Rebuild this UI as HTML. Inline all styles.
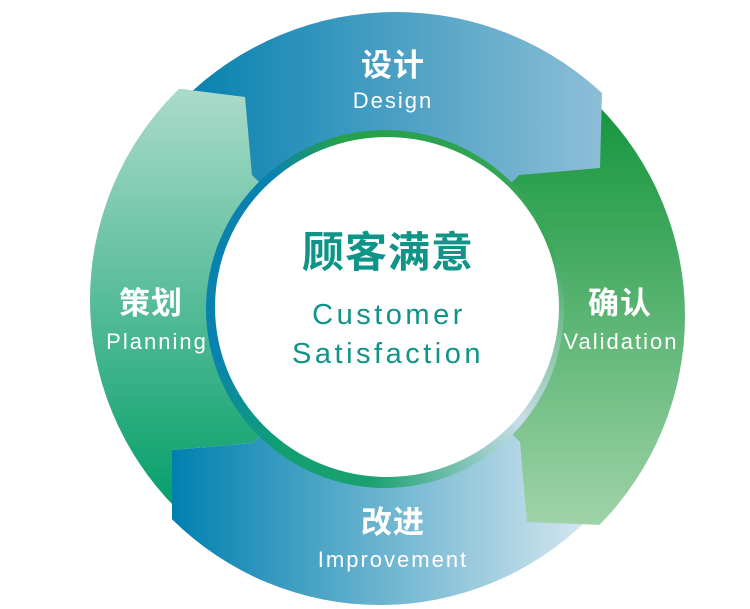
<!DOCTYPE html>
<html><head><meta charset="utf-8"><style>
html,body{margin:0;padding:0;background:#fff;}
#w{position:relative;width:750px;height:609px;overflow:hidden;font-family:"Liberation Sans","Noto Sans CJK SC",sans-serif;}
svg{position:absolute;left:0;top:0;}
.band{position:absolute;left:206px;top:130px;width:358px;height:358px;border-radius:50%;
background:conic-gradient(from 0deg,#27a04c 0deg,#3aa858 70deg,#c8dde8 130deg,#1aa070 185deg,#12a070 215deg,#0a82b0 255deg,#0a82b0 320deg,#27a04c 345deg);}
.white{position:absolute;left:215px;top:137px;width:344px;height:340px;border-radius:50%;background:#fff;}
.t{position:absolute;color:#fff;text-align:center;white-space:nowrap;transform:translateX(-50%);}
.cn{font-weight:bold;font-size:31px;line-height:31px;letter-spacing:1px;}
.en{font-size:22px;line-height:22px;letter-spacing:2px;}
.c{color:#0f9488;}
</style></head><body><div id="w">
<svg width="750" height="609" viewBox="0 0 750 609">
<defs>
<linearGradient id="gD" gradientUnits="userSpaceOnUse" x1="190" y1="0" x2="602" y2="0"><stop offset="0" stop-color="#0882b0"/><stop offset="1" stop-color="#8dbed7"/></linearGradient>
<linearGradient id="gV" gradientUnits="userSpaceOnUse" x1="0" y1="110" x2="0" y2="525"><stop offset="0" stop-color="#16963e"/><stop offset="1" stop-color="#9fd3a8"/></linearGradient>
<linearGradient id="gI" gradientUnits="userSpaceOnUse" x1="172" y1="0" x2="590" y2="0"><stop offset="0" stop-color="#0080b0"/><stop offset="1" stop-color="#d6e7ef"/></linearGradient>
<linearGradient id="gP" gradientUnits="userSpaceOnUse" x1="0" y1="93" x2="0" y2="500"><stop offset="0" stop-color="#a9dac9"/><stop offset="1" stop-color="#08a06b"/></linearGradient>
<clipPath id="cI"><polygon points="172,450 253,443 387,308 750,308 750,609 172,609"/></clipPath>
<clipPath id="cV"><polygon points="387,308 520,442 527,522 602,525 750,525 750,0 387,0"/></clipPath>
<clipPath id="cD"><polygon points="0,0 602,0 602,93 600,168 519,175 387,308 0,308"/></clipPath>
<clipPath id="cP"><polygon points="252,175 245,97 150,85 0,85 0,609 172,609 172,450 253,443 387,308"/></clipPath>
</defs>
<circle cx="380" cy="310" r="295" fill="url(#gI)" clip-path="url(#cI)"/>
<circle cx="387" cy="316" r="298" fill="url(#gV)" clip-path="url(#cV)"/>
<circle cx="396" cy="314" r="302" fill="url(#gD)" clip-path="url(#cD)"/>
<circle cx="385" cy="300" r="295" fill="url(#gP)" clip-path="url(#cP)"/>
</svg>
<div class="band"></div>
<div class="white"></div>
<div class="t cn" style="left:393px;top:50px;">设计</div>
<div class="t en" style="left:393px;top:90px;">Design</div>
<div class="t cn" style="left:151px;top:288px;">策划</div>
<div class="t en" style="left:157px;top:331px;">Planning</div>
<div class="t cn" style="left:620px;top:288px;">确认</div>
<div class="t en" style="left:621px;top:331px;">Validation</div>
<div class="t cn" style="left:393px;top:507px;">改进</div>
<div class="t en" style="left:393px;top:549px;">Improvement</div>
<div class="t c" style="left:388px;top:231px;font-size:42px;line-height:44px;font-weight:bold;letter-spacing:1px;">顾客满意</div>
<div class="t c" style="left:389px;top:300px;font-size:29px;line-height:30px;letter-spacing:3.5px;">Customer</div>
<div class="t c" style="left:388px;top:339px;font-size:29px;line-height:30px;letter-spacing:3.5px;">Satisfaction</div>
</div></body></html>
